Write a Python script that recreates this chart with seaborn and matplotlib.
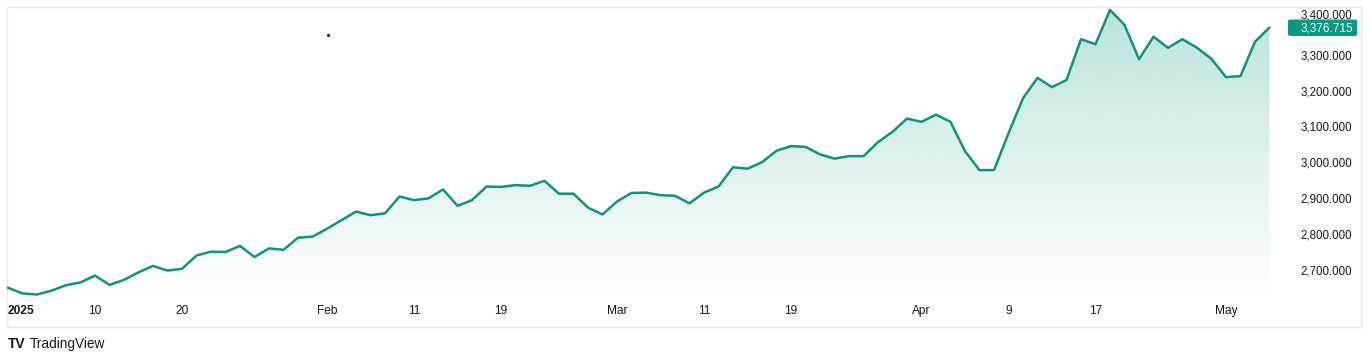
import numpy as np
import pandas as pd
import matplotlib
matplotlib.use("Agg")
import matplotlib.pyplot as plt
import seaborn as sns
from matplotlib.patches import Rectangle, FancyBboxPatch, PathPatch
from matplotlib.lines import Line2D

# ---------------- data ----------------
start_date = "2025-01-02"
end_date = "2025-05-06"
holidays = ["2025-04-18"]

prices = [
    2649, 2633, 2630, 2641, 2656, 2664, 2683, 2657, 2671, 2692,
    2710, 2697, 2702, 2739, 2750, 2749, 2766, 2735, 2759, 2755,
    2789, 2792, 2814, 2838, 2862, 2852, 2857, 2904, 2894, 2899,
    2924, 2878, 2894, 2932, 2931, 2936, 2934, 2948, 2912, 2912,
    2873, 2854, 2890, 2914, 2915, 2908, 2906, 2885, 2915, 2932,
    2986, 2982, 3000, 3032, 3045, 3043, 3022, 3010, 3017, 3017,
    3056, 3085, 3122, 3113, 3133, 3113, 3031, 2978, 2978, 3081,
    3179, 3236, 3210, 3230, 3344, 3330, 3426, 3384, 3288, 3351,
    3320, 3344, 3320, 3289, 3238, 3241, 3337, 3376.715,
]

tick_dates = ["2025-01-02", "2025-01-10", "2025-01-20", "2025-02-03", "2025-02-11",
              "2025-02-19", "2025-03-03", "2025-03-11", "2025-03-19", "2025-04-01",
              "2025-04-09", "2025-04-17", "2025-05-01"]
tick_labels = ["2025", "10", "20", "Feb", "11", "19", "Mar", "11", "19", "Apr", "9", "17", "May"]

y_ticks = [2700, 2800, 2900, 3000, 3100, 3200, 3300]
top_tick = 3400
last_label = "3,376.715"

# ---------------- build frame ----------------
dates = pd.bdate_range(start_date, end_date)
dates = dates[~dates.isin(pd.to_datetime(holidays))]
df = pd.DataFrame({"date": dates, "price": prices})
df["idx"] = np.arange(len(df))
tick_pos = [int(df.index[df["date"] == pd.Timestamp(d)][0]) for d in tick_dates]

# ---------------- style ----------------
sns.set_theme(style="white")
plt.rcParams["font.family"] = ["Liberation Sans", "DejaVu Sans"]

W, H = 1372, 362
fig = plt.figure(figsize=(W / 100, H / 100), dpi=100)
fig.patch.set_facecolor("white")

def fx(px):
    return px / W

def fy(py):
    return 1 - py / H

ax_l, ax_r, ax_t, ax_b = 7, 1285, 7, 297
ax = fig.add_axes([fx(ax_l), fy(ax_b), fx(ax_r - ax_l), (ax_b - ax_t) / H])
ax.set_facecolor("none")

green = "#089981"
line_col = "#10937c"

step = 14.5
xmin = 0 - (8 - ax_l) / step
xmax = (len(df) - 1) + (ax_r - 1269.5) / step
ppu = 0.3576
ymin = 2700 - (ax_b - 269.5) / ppu
ymax = 2700 + (269.5 - ax_t) / ppu

# gradient fill under the line
poly = ax.fill_between(df["idx"], df["price"], ymin, color="none", lw=0)
path = poly.get_paths()[0]
rgb = np.array(matplotlib.colors.to_rgb(green))
n = 256
img = np.zeros((n, 1, 4))
img[:, 0, :3] = rgb
img[:, 0, 3] = np.linspace(0.28, 0.0, n)
im = ax.imshow(img, extent=[xmin, xmax, ymin, ymax], aspect="auto", origin="upper", zorder=1)
clip = PathPatch(path, transform=ax.transData, facecolor="none", edgecolor="none")
ax.add_patch(clip)
im.set_clip_path(clip)

sns.lineplot(data=df, x="idx", y="price", ax=ax, color=line_col, linewidth=1.8, zorder=3)

ax.set_xlim(xmin, xmax)
ax.set_ylim(ymin, ymax)
ax.set_xlabel("")
ax.set_ylabel("")
for s in ax.spines.values():
    s.set_visible(False)
ax.grid(False)

# x ticks
ax.set_xticks(tick_pos)
ax.set_xticklabels(tick_labels)
ax.tick_params(axis="x", length=0, pad=5.5, labelsize=8.6, colors="#131722")
xl = ax.get_xticklabels()
xl[0].set_fontweight("bold")
xl[0].set_ha("left")

# y ticks on right
ax.yaxis.tick_right()
ax.set_yticks(y_ticks)
ax.set_yticklabels([f"{v:,.3f}" for v in y_ticks])
ax.tick_params(axis="y", length=0, pad=(1352 - ax_r) * 0.72, labelsize=8.3, colors="#131722")
for t in ax.get_yticklabels():
    t.set_ha("right")

# top price label, partly covered by the last-price badge (as in TradingView)
fig.text(fx(1352), fy(15.8), f"{top_tick:,.3f}", fontsize=8.3, color="#131722",
         ha="right", va="center", zorder=5)

# border around chart
fig.add_artist(Rectangle((fx(7), fy(327)), fx(1361 - 7), (327 - 7) / H,
                         transform=fig.transFigure, facecolor="none",
                         edgecolor="#e6e8ee", lw=1.0, zorder=0))

# last price badge
bx0, bx1, by0, by1 = 1288, 1357, 19.5, 36.0
fig.add_artist(FancyBboxPatch((fx(bx0), fy(by1)), fx(bx1 - bx0), (by1 - by0) / H,
                              boxstyle="round,pad=0,rounding_size=0.003",
                              transform=fig.transFigure, facecolor=green,
                              edgecolor="none", zorder=10))
fig.text(fx(1353), fy(28.4), last_label, color="white", fontsize=8.5,
         ha="right", va="center", zorder=11)

# tiny dot artifact
fig.add_artist(Line2D([fx(328)], [fy(35)], marker="o", markersize=1.2,
                      color="#131722", transform=fig.transFigure, lw=0))

# TradingView attribution
fig.text(fx(8), fy(344), "TV", fontsize=10, fontweight="heavy", color="#131722",
         ha="left", va="center")
fig.text(fx(30), fy(344), "TradingView", fontsize=9.8, color="#131722",
         ha="left", va="center")

fig.savefig("out.png", dpi=100, facecolor="white")
